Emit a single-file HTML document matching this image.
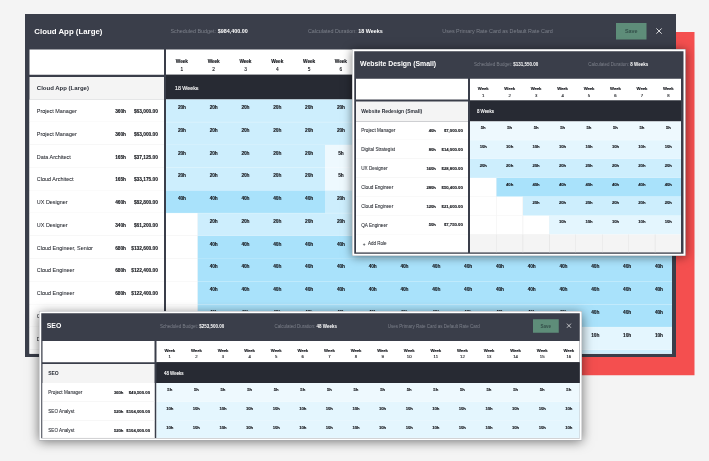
<!DOCTYPE html>
<html lang="en"><head><meta charset="utf-8"><title>Project estimates</title>
<style>
html,body{margin:0;padding:0;background:#f4f4f4}
body{width:709px;height:461px;overflow:hidden;background:#f4f4f4;position:relative;font-family:"Liberation Sans",sans-serif}
#stage{position:absolute;left:0;top:0;width:2836px;height:1844px;transform:scale(0.25);transform-origin:0 0}
.win{position:absolute;background:#3a3e4a;overflow:hidden;box-sizing:content-box}
.win div{position:absolute}
.t{position:absolute;white-space:nowrap}
.t b{color:#fff}
.k{-webkit-text-stroke:0.48px currentColor}
.k2{-webkit-text-stroke:0.24px currentColor}
#red{position:absolute;left:1200px;top:128px;width:1578px;height:1372.8px;background:#f44f4f}
</style></head>
<body>
<div id="stage">
<div id="red"></div>
<div class="win w1" style="left:100px;top:56px;width:2604px;height:1372px;"><span class="t" style="top:51.54px;font-size:31.4px;line-height:37.68px;color:#fff;font-weight:700;left:37.2px;">Cloud App (Large)</span>
<span class="t" style="top:57.3px;font-size:21.6px;line-height:25.92px;color:#7d818b;left:582px;">Scheduled Budget: <b>$984,400.00</b></span>
<span class="t" style="top:57.3px;font-size:21.6px;line-height:25.92px;color:#7d818b;left:1131.6px;">Calculated Duration: <b>18 Weeks</b></span>
<span class="t" style="top:57.3px;font-size:21.6px;line-height:25.92px;color:#7d818b;left:1669.2px;">Uses Primary Rate Card as Default Rate Card</span>
<div style="left:2364px;top:36px;width:122.4px;height:65.6px;background:#5e8d79;"></div>
<span class="t" style="top:56.1px;font-size:21.6px;line-height:25.92px;color:#34504a;font-weight:700;left:2365.2px;width:120px;text-align:center;">Save</span>
<svg style="position:absolute;left:2522.8px;top:54.8px" width="26.4" height="26.4" viewBox="-5 -5 10 10"><path d="M-4 -4L4 4M4 -4L-4 4" stroke="#fff" stroke-width="1.25" fill="none"/></svg>
<div style="left:18.4px;top:141.6px;width:537.6px;height:101.2px;background:#fff;"></div>
<div style="left:564px;top:141.6px;width:2024px;height:101.2px;background:#fff;"></div>
<div style="left:18.4px;top:252.4px;width:537.6px;height:89.6px;background:#f4f4f4;"></div>
<div style="left:564px;top:242.8px;width:2024px;height:99.2px;background:#272a33;"></div>
<span class="t" style="top:283.09px;font-size:24px;line-height:28.8px;color:#2b2f38;font-weight:700;left:47.2px;">Cloud App (Large)</span>
<span class="t k" style="top:284.75px;font-size:21.17px;line-height:25.4px;color:#fff;left:600px;">18 Weeks</span>
<span class="t k" style="top:178.71px;font-size:19.2px;line-height:23.04px;color:#15171c;font-weight:700;letter-spacing:-0.48px;left:567.36px;width:120px;text-align:center;">Week</span>
<span class="t k" style="top:208.71px;font-size:19.2px;line-height:23.04px;color:#15171c;left:567.6px;width:120px;text-align:center;">1</span>
<span class="t k" style="top:178.71px;font-size:19.2px;line-height:23.04px;color:#15171c;font-weight:700;letter-spacing:-0.48px;left:694.56px;width:120px;text-align:center;">Week</span>
<span class="t k" style="top:208.71px;font-size:19.2px;line-height:23.04px;color:#15171c;left:694.8px;width:120px;text-align:center;">2</span>
<span class="t k" style="top:178.71px;font-size:19.2px;line-height:23.04px;color:#15171c;font-weight:700;letter-spacing:-0.48px;left:821.76px;width:120px;text-align:center;">Week</span>
<span class="t k" style="top:208.71px;font-size:19.2px;line-height:23.04px;color:#15171c;left:822px;width:120px;text-align:center;">3</span>
<span class="t k" style="top:178.71px;font-size:19.2px;line-height:23.04px;color:#15171c;font-weight:700;letter-spacing:-0.48px;left:948.96px;width:120px;text-align:center;">Week</span>
<span class="t k" style="top:208.71px;font-size:19.2px;line-height:23.04px;color:#15171c;left:949.2px;width:120px;text-align:center;">4</span>
<span class="t k" style="top:178.71px;font-size:19.2px;line-height:23.04px;color:#15171c;font-weight:700;letter-spacing:-0.48px;left:1076.16px;width:120px;text-align:center;">Week</span>
<span class="t k" style="top:208.71px;font-size:19.2px;line-height:23.04px;color:#15171c;left:1076.4px;width:120px;text-align:center;">5</span>
<span class="t k" style="top:178.71px;font-size:19.2px;line-height:23.04px;color:#15171c;font-weight:700;letter-spacing:-0.48px;left:1203.36px;width:120px;text-align:center;">Week</span>
<span class="t k" style="top:208.71px;font-size:19.2px;line-height:23.04px;color:#15171c;left:1203.6px;width:120px;text-align:center;">6</span>
<span class="t k" style="top:178.71px;font-size:19.2px;line-height:23.04px;color:#15171c;font-weight:700;letter-spacing:-0.48px;left:1330.56px;width:120px;text-align:center;">Week</span>
<span class="t k" style="top:208.71px;font-size:19.2px;line-height:23.04px;color:#15171c;left:1330.8px;width:120px;text-align:center;">7</span>
<span class="t k" style="top:178.71px;font-size:19.2px;line-height:23.04px;color:#15171c;font-weight:700;letter-spacing:-0.48px;left:1457.76px;width:120px;text-align:center;">Week</span>
<span class="t k" style="top:208.71px;font-size:19.2px;line-height:23.04px;color:#15171c;left:1458px;width:120px;text-align:center;">8</span>
<span class="t k" style="top:178.71px;font-size:19.2px;line-height:23.04px;color:#15171c;font-weight:700;letter-spacing:-0.48px;left:1584.96px;width:120px;text-align:center;">Week</span>
<span class="t k" style="top:208.71px;font-size:19.2px;line-height:23.04px;color:#15171c;left:1585.2px;width:120px;text-align:center;">9</span>
<span class="t k" style="top:178.71px;font-size:19.2px;line-height:23.04px;color:#15171c;font-weight:700;letter-spacing:-0.48px;left:1712.16px;width:120px;text-align:center;">Week</span>
<span class="t k" style="top:208.71px;font-size:19.2px;line-height:23.04px;color:#15171c;left:1712.4px;width:120px;text-align:center;">10</span>
<span class="t k" style="top:178.71px;font-size:19.2px;line-height:23.04px;color:#15171c;font-weight:700;letter-spacing:-0.48px;left:1839.36px;width:120px;text-align:center;">Week</span>
<span class="t k" style="top:208.71px;font-size:19.2px;line-height:23.04px;color:#15171c;left:1839.6px;width:120px;text-align:center;">11</span>
<span class="t k" style="top:178.71px;font-size:19.2px;line-height:23.04px;color:#15171c;font-weight:700;letter-spacing:-0.48px;left:1966.56px;width:120px;text-align:center;">Week</span>
<span class="t k" style="top:208.71px;font-size:19.2px;line-height:23.04px;color:#15171c;left:1966.8px;width:120px;text-align:center;">12</span>
<span class="t k" style="top:178.71px;font-size:19.2px;line-height:23.04px;color:#15171c;font-weight:700;letter-spacing:-0.48px;left:2093.76px;width:120px;text-align:center;">Week</span>
<span class="t k" style="top:208.71px;font-size:19.2px;line-height:23.04px;color:#15171c;left:2094px;width:120px;text-align:center;">13</span>
<span class="t k" style="top:178.71px;font-size:19.2px;line-height:23.04px;color:#15171c;font-weight:700;letter-spacing:-0.48px;left:2220.96px;width:120px;text-align:center;">Week</span>
<span class="t k" style="top:208.71px;font-size:19.2px;line-height:23.04px;color:#15171c;left:2221.2px;width:120px;text-align:center;">14</span>
<span class="t k" style="top:178.71px;font-size:19.2px;line-height:23.04px;color:#15171c;font-weight:700;letter-spacing:-0.48px;left:2348.16px;width:120px;text-align:center;">Week</span>
<span class="t k" style="top:208.71px;font-size:19.2px;line-height:23.04px;color:#15171c;left:2348.4px;width:120px;text-align:center;">15</span>
<span class="t k" style="top:178.71px;font-size:19.2px;line-height:23.04px;color:#15171c;font-weight:700;letter-spacing:-0.48px;left:2475.36px;width:120px;text-align:center;">Week</span>
<span class="t k" style="top:208.71px;font-size:19.2px;line-height:23.04px;color:#15171c;left:2475.6px;width:120px;text-align:center;">16</span>
<div style="left:18.4px;top:342px;width:537.6px;height:1017.2px;background:#fff;"></div>
<div style="left:564px;top:342px;width:2024px;height:1017.2px;background:#fff;"></div>
<div style="left:18.4px;top:342px;width:537.6px;height:91.08px;background:#fff;box-shadow:inset 0 -2px 0 #efefef;"></div>
<span class="t k2" style="top:375.92px;font-size:21.8px;line-height:26.16px;color:#1f2229;left:47.2px;">Project Manager</span>
<span class="t k" style="top:377.45px;font-size:19.2px;line-height:23.04px;color:#15171c;font-weight:700;letter-spacing:-0.48px;right:calc(100% - 403.12px);">360h</span>
<span class="t k" style="top:377.45px;font-size:19.2px;line-height:23.04px;color:#15171c;font-weight:700;right:calc(100% - 531.6px);">$63,000.00</span>
<div style="left:564px;top:342px;width:2024px;height:91.08px;background:#cdeefd;box-shadow:inset 0 -2px 0 rgba(255,255,255,.3);"></div>
<span class="t k" style="top:361.91px;font-size:19.2px;line-height:23.04px;color:#15171c;font-weight:700;letter-spacing:-0.48px;left:567.36px;width:120px;text-align:center;">20h</span>
<span class="t k" style="top:361.91px;font-size:19.2px;line-height:23.04px;color:#15171c;font-weight:700;letter-spacing:-0.48px;left:694.56px;width:120px;text-align:center;">20h</span>
<span class="t k" style="top:361.91px;font-size:19.2px;line-height:23.04px;color:#15171c;font-weight:700;letter-spacing:-0.48px;left:821.76px;width:120px;text-align:center;">20h</span>
<span class="t k" style="top:361.91px;font-size:19.2px;line-height:23.04px;color:#15171c;font-weight:700;letter-spacing:-0.48px;left:948.96px;width:120px;text-align:center;">20h</span>
<span class="t k" style="top:361.91px;font-size:19.2px;line-height:23.04px;color:#15171c;font-weight:700;letter-spacing:-0.48px;left:1076.16px;width:120px;text-align:center;">20h</span>
<span class="t k" style="top:361.91px;font-size:19.2px;line-height:23.04px;color:#15171c;font-weight:700;letter-spacing:-0.48px;left:1203.36px;width:120px;text-align:center;">20h</span>
<span class="t k" style="top:361.91px;font-size:19.2px;line-height:23.04px;color:#15171c;font-weight:700;letter-spacing:-0.48px;left:1330.56px;width:120px;text-align:center;">20h</span>
<span class="t k" style="top:361.91px;font-size:19.2px;line-height:23.04px;color:#15171c;font-weight:700;letter-spacing:-0.48px;left:1457.76px;width:120px;text-align:center;">20h</span>
<span class="t k" style="top:361.91px;font-size:19.2px;line-height:23.04px;color:#15171c;font-weight:700;letter-spacing:-0.48px;left:1584.96px;width:120px;text-align:center;">20h</span>
<span class="t k" style="top:361.91px;font-size:19.2px;line-height:23.04px;color:#15171c;font-weight:700;letter-spacing:-0.48px;left:1712.16px;width:120px;text-align:center;">20h</span>
<span class="t k" style="top:361.91px;font-size:19.2px;line-height:23.04px;color:#15171c;font-weight:700;letter-spacing:-0.48px;left:1839.36px;width:120px;text-align:center;">20h</span>
<span class="t k" style="top:361.91px;font-size:19.2px;line-height:23.04px;color:#15171c;font-weight:700;letter-spacing:-0.48px;left:1966.56px;width:120px;text-align:center;">20h</span>
<span class="t k" style="top:361.91px;font-size:19.2px;line-height:23.04px;color:#15171c;font-weight:700;letter-spacing:-0.48px;left:2093.76px;width:120px;text-align:center;">20h</span>
<span class="t k" style="top:361.91px;font-size:19.2px;line-height:23.04px;color:#15171c;font-weight:700;letter-spacing:-0.48px;left:2220.96px;width:120px;text-align:center;">20h</span>
<span class="t k" style="top:361.91px;font-size:19.2px;line-height:23.04px;color:#15171c;font-weight:700;letter-spacing:-0.48px;left:2348.16px;width:120px;text-align:center;">20h</span>
<span class="t k" style="top:361.91px;font-size:19.2px;line-height:23.04px;color:#15171c;font-weight:700;letter-spacing:-0.48px;left:2475.36px;width:120px;text-align:center;">20h</span>
<div style="left:18.4px;top:433.08px;width:537.6px;height:91.08px;background:#fff;box-shadow:inset 0 -2px 0 #efefef;"></div>
<span class="t k2" style="top:467px;font-size:21.8px;line-height:26.16px;color:#1f2229;left:47.2px;">Project Manager</span>
<span class="t k" style="top:468.53px;font-size:19.2px;line-height:23.04px;color:#15171c;font-weight:700;letter-spacing:-0.48px;right:calc(100% - 403.12px);">360h</span>
<span class="t k" style="top:468.53px;font-size:19.2px;line-height:23.04px;color:#15171c;font-weight:700;right:calc(100% - 531.6px);">$63,000.00</span>
<div style="left:564px;top:433.08px;width:2024px;height:91.08px;background:#cdeefd;box-shadow:inset 0 -2px 0 rgba(255,255,255,.3);"></div>
<span class="t k" style="top:452.99px;font-size:19.2px;line-height:23.04px;color:#15171c;font-weight:700;letter-spacing:-0.48px;left:567.36px;width:120px;text-align:center;">20h</span>
<span class="t k" style="top:452.99px;font-size:19.2px;line-height:23.04px;color:#15171c;font-weight:700;letter-spacing:-0.48px;left:694.56px;width:120px;text-align:center;">20h</span>
<span class="t k" style="top:452.99px;font-size:19.2px;line-height:23.04px;color:#15171c;font-weight:700;letter-spacing:-0.48px;left:821.76px;width:120px;text-align:center;">20h</span>
<span class="t k" style="top:452.99px;font-size:19.2px;line-height:23.04px;color:#15171c;font-weight:700;letter-spacing:-0.48px;left:948.96px;width:120px;text-align:center;">20h</span>
<span class="t k" style="top:452.99px;font-size:19.2px;line-height:23.04px;color:#15171c;font-weight:700;letter-spacing:-0.48px;left:1076.16px;width:120px;text-align:center;">20h</span>
<span class="t k" style="top:452.99px;font-size:19.2px;line-height:23.04px;color:#15171c;font-weight:700;letter-spacing:-0.48px;left:1203.36px;width:120px;text-align:center;">20h</span>
<span class="t k" style="top:452.99px;font-size:19.2px;line-height:23.04px;color:#15171c;font-weight:700;letter-spacing:-0.48px;left:1330.56px;width:120px;text-align:center;">20h</span>
<span class="t k" style="top:452.99px;font-size:19.2px;line-height:23.04px;color:#15171c;font-weight:700;letter-spacing:-0.48px;left:1457.76px;width:120px;text-align:center;">20h</span>
<span class="t k" style="top:452.99px;font-size:19.2px;line-height:23.04px;color:#15171c;font-weight:700;letter-spacing:-0.48px;left:1584.96px;width:120px;text-align:center;">20h</span>
<span class="t k" style="top:452.99px;font-size:19.2px;line-height:23.04px;color:#15171c;font-weight:700;letter-spacing:-0.48px;left:1712.16px;width:120px;text-align:center;">20h</span>
<span class="t k" style="top:452.99px;font-size:19.2px;line-height:23.04px;color:#15171c;font-weight:700;letter-spacing:-0.48px;left:1839.36px;width:120px;text-align:center;">20h</span>
<span class="t k" style="top:452.99px;font-size:19.2px;line-height:23.04px;color:#15171c;font-weight:700;letter-spacing:-0.48px;left:1966.56px;width:120px;text-align:center;">20h</span>
<span class="t k" style="top:452.99px;font-size:19.2px;line-height:23.04px;color:#15171c;font-weight:700;letter-spacing:-0.48px;left:2093.76px;width:120px;text-align:center;">20h</span>
<span class="t k" style="top:452.99px;font-size:19.2px;line-height:23.04px;color:#15171c;font-weight:700;letter-spacing:-0.48px;left:2220.96px;width:120px;text-align:center;">20h</span>
<span class="t k" style="top:452.99px;font-size:19.2px;line-height:23.04px;color:#15171c;font-weight:700;letter-spacing:-0.48px;left:2348.16px;width:120px;text-align:center;">20h</span>
<span class="t k" style="top:452.99px;font-size:19.2px;line-height:23.04px;color:#15171c;font-weight:700;letter-spacing:-0.48px;left:2475.36px;width:120px;text-align:center;">20h</span>
<div style="left:18.4px;top:524.16px;width:537.6px;height:91.08px;background:#fff;box-shadow:inset 0 -2px 0 #efefef;"></div>
<span class="t k2" style="top:558.08px;font-size:21.8px;line-height:26.16px;color:#1f2229;left:47.2px;">Data Architect</span>
<span class="t k" style="top:559.61px;font-size:19.2px;line-height:23.04px;color:#15171c;font-weight:700;letter-spacing:-0.48px;right:calc(100% - 403.12px);">165h</span>
<span class="t k" style="top:559.61px;font-size:19.2px;line-height:23.04px;color:#15171c;font-weight:700;right:calc(100% - 531.6px);">$37,125.00</span>
<div style="left:564px;top:524.16px;width:636px;height:91.08px;background:#cdeefd;box-shadow:inset 0 -2px 0 rgba(255,255,255,.3);"></div>
<span class="t k" style="top:544.07px;font-size:19.2px;line-height:23.04px;color:#15171c;font-weight:700;letter-spacing:-0.48px;left:567.36px;width:120px;text-align:center;">20h</span>
<span class="t k" style="top:544.07px;font-size:19.2px;line-height:23.04px;color:#15171c;font-weight:700;letter-spacing:-0.48px;left:694.56px;width:120px;text-align:center;">20h</span>
<span class="t k" style="top:544.07px;font-size:19.2px;line-height:23.04px;color:#15171c;font-weight:700;letter-spacing:-0.48px;left:821.76px;width:120px;text-align:center;">20h</span>
<span class="t k" style="top:544.07px;font-size:19.2px;line-height:23.04px;color:#15171c;font-weight:700;letter-spacing:-0.48px;left:948.96px;width:120px;text-align:center;">20h</span>
<span class="t k" style="top:544.07px;font-size:19.2px;line-height:23.04px;color:#15171c;font-weight:700;letter-spacing:-0.48px;left:1076.16px;width:120px;text-align:center;">20h</span>
<div style="left:1200px;top:524.16px;width:1388px;height:91.08px;background:#eef9fe;box-shadow:inset 0 -2px 0 rgba(255,255,255,.3);"></div>
<span class="t k" style="top:544.07px;font-size:19.2px;line-height:23.04px;color:#15171c;font-weight:700;letter-spacing:-0.48px;left:1203.36px;width:120px;text-align:center;">5h</span>
<span class="t k" style="top:544.07px;font-size:19.2px;line-height:23.04px;color:#15171c;font-weight:700;letter-spacing:-0.48px;left:1330.56px;width:120px;text-align:center;">5h</span>
<span class="t k" style="top:544.07px;font-size:19.2px;line-height:23.04px;color:#15171c;font-weight:700;letter-spacing:-0.48px;left:1457.76px;width:120px;text-align:center;">5h</span>
<span class="t k" style="top:544.07px;font-size:19.2px;line-height:23.04px;color:#15171c;font-weight:700;letter-spacing:-0.48px;left:1584.96px;width:120px;text-align:center;">5h</span>
<span class="t k" style="top:544.07px;font-size:19.2px;line-height:23.04px;color:#15171c;font-weight:700;letter-spacing:-0.48px;left:1712.16px;width:120px;text-align:center;">5h</span>
<span class="t k" style="top:544.07px;font-size:19.2px;line-height:23.04px;color:#15171c;font-weight:700;letter-spacing:-0.48px;left:1839.36px;width:120px;text-align:center;">5h</span>
<span class="t k" style="top:544.07px;font-size:19.2px;line-height:23.04px;color:#15171c;font-weight:700;letter-spacing:-0.48px;left:1966.56px;width:120px;text-align:center;">5h</span>
<span class="t k" style="top:544.07px;font-size:19.2px;line-height:23.04px;color:#15171c;font-weight:700;letter-spacing:-0.48px;left:2093.76px;width:120px;text-align:center;">5h</span>
<span class="t k" style="top:544.07px;font-size:19.2px;line-height:23.04px;color:#15171c;font-weight:700;letter-spacing:-0.48px;left:2220.96px;width:120px;text-align:center;">5h</span>
<span class="t k" style="top:544.07px;font-size:19.2px;line-height:23.04px;color:#15171c;font-weight:700;letter-spacing:-0.48px;left:2348.16px;width:120px;text-align:center;">5h</span>
<span class="t k" style="top:544.07px;font-size:19.2px;line-height:23.04px;color:#15171c;font-weight:700;letter-spacing:-0.48px;left:2475.36px;width:120px;text-align:center;">5h</span>
<div style="left:18.4px;top:615.24px;width:537.6px;height:91.08px;background:#fff;box-shadow:inset 0 -2px 0 #efefef;"></div>
<span class="t k2" style="top:649.16px;font-size:21.8px;line-height:26.16px;color:#1f2229;left:47.2px;">Cloud Architect</span>
<span class="t k" style="top:650.69px;font-size:19.2px;line-height:23.04px;color:#15171c;font-weight:700;letter-spacing:-0.48px;right:calc(100% - 403.12px);">165h</span>
<span class="t k" style="top:650.69px;font-size:19.2px;line-height:23.04px;color:#15171c;font-weight:700;right:calc(100% - 531.6px);">$33,175.00</span>
<div style="left:564px;top:615.24px;width:636px;height:91.08px;background:#cdeefd;box-shadow:inset 0 -2px 0 rgba(255,255,255,.3);"></div>
<span class="t k" style="top:635.15px;font-size:19.2px;line-height:23.04px;color:#15171c;font-weight:700;letter-spacing:-0.48px;left:567.36px;width:120px;text-align:center;">20h</span>
<span class="t k" style="top:635.15px;font-size:19.2px;line-height:23.04px;color:#15171c;font-weight:700;letter-spacing:-0.48px;left:694.56px;width:120px;text-align:center;">20h</span>
<span class="t k" style="top:635.15px;font-size:19.2px;line-height:23.04px;color:#15171c;font-weight:700;letter-spacing:-0.48px;left:821.76px;width:120px;text-align:center;">20h</span>
<span class="t k" style="top:635.15px;font-size:19.2px;line-height:23.04px;color:#15171c;font-weight:700;letter-spacing:-0.48px;left:948.96px;width:120px;text-align:center;">20h</span>
<span class="t k" style="top:635.15px;font-size:19.2px;line-height:23.04px;color:#15171c;font-weight:700;letter-spacing:-0.48px;left:1076.16px;width:120px;text-align:center;">20h</span>
<div style="left:1200px;top:615.24px;width:1388px;height:91.08px;background:#eef9fe;box-shadow:inset 0 -2px 0 rgba(255,255,255,.3);"></div>
<span class="t k" style="top:635.15px;font-size:19.2px;line-height:23.04px;color:#15171c;font-weight:700;letter-spacing:-0.48px;left:1203.36px;width:120px;text-align:center;">5h</span>
<span class="t k" style="top:635.15px;font-size:19.2px;line-height:23.04px;color:#15171c;font-weight:700;letter-spacing:-0.48px;left:1330.56px;width:120px;text-align:center;">5h</span>
<span class="t k" style="top:635.15px;font-size:19.2px;line-height:23.04px;color:#15171c;font-weight:700;letter-spacing:-0.48px;left:1457.76px;width:120px;text-align:center;">5h</span>
<span class="t k" style="top:635.15px;font-size:19.2px;line-height:23.04px;color:#15171c;font-weight:700;letter-spacing:-0.48px;left:1584.96px;width:120px;text-align:center;">5h</span>
<span class="t k" style="top:635.15px;font-size:19.2px;line-height:23.04px;color:#15171c;font-weight:700;letter-spacing:-0.48px;left:1712.16px;width:120px;text-align:center;">5h</span>
<span class="t k" style="top:635.15px;font-size:19.2px;line-height:23.04px;color:#15171c;font-weight:700;letter-spacing:-0.48px;left:1839.36px;width:120px;text-align:center;">5h</span>
<span class="t k" style="top:635.15px;font-size:19.2px;line-height:23.04px;color:#15171c;font-weight:700;letter-spacing:-0.48px;left:1966.56px;width:120px;text-align:center;">5h</span>
<span class="t k" style="top:635.15px;font-size:19.2px;line-height:23.04px;color:#15171c;font-weight:700;letter-spacing:-0.48px;left:2093.76px;width:120px;text-align:center;">5h</span>
<span class="t k" style="top:635.15px;font-size:19.2px;line-height:23.04px;color:#15171c;font-weight:700;letter-spacing:-0.48px;left:2220.96px;width:120px;text-align:center;">5h</span>
<span class="t k" style="top:635.15px;font-size:19.2px;line-height:23.04px;color:#15171c;font-weight:700;letter-spacing:-0.48px;left:2348.16px;width:120px;text-align:center;">5h</span>
<span class="t k" style="top:635.15px;font-size:19.2px;line-height:23.04px;color:#15171c;font-weight:700;letter-spacing:-0.48px;left:2475.36px;width:120px;text-align:center;">5h</span>
<div style="left:18.4px;top:706.32px;width:537.6px;height:91.08px;background:#fff;box-shadow:inset 0 -2px 0 #efefef;"></div>
<span class="t k2" style="top:740.24px;font-size:21.8px;line-height:26.16px;color:#1f2229;left:47.2px;">UX Designer</span>
<span class="t k" style="top:741.77px;font-size:19.2px;line-height:23.04px;color:#15171c;font-weight:700;letter-spacing:-0.48px;right:calc(100% - 403.12px);">460h</span>
<span class="t k" style="top:741.77px;font-size:19.2px;line-height:23.04px;color:#15171c;font-weight:700;right:calc(100% - 531.6px);">$82,800.00</span>
<div style="left:564px;top:706.32px;width:636px;height:91.08px;background:#a9e2fb;box-shadow:inset 0 -2px 0 rgba(255,255,255,.3);"></div>
<span class="t k" style="top:726.23px;font-size:19.2px;line-height:23.04px;color:#15171c;font-weight:700;letter-spacing:-0.48px;left:567.36px;width:120px;text-align:center;">40h</span>
<span class="t k" style="top:726.23px;font-size:19.2px;line-height:23.04px;color:#15171c;font-weight:700;letter-spacing:-0.48px;left:694.56px;width:120px;text-align:center;">40h</span>
<span class="t k" style="top:726.23px;font-size:19.2px;line-height:23.04px;color:#15171c;font-weight:700;letter-spacing:-0.48px;left:821.76px;width:120px;text-align:center;">40h</span>
<span class="t k" style="top:726.23px;font-size:19.2px;line-height:23.04px;color:#15171c;font-weight:700;letter-spacing:-0.48px;left:948.96px;width:120px;text-align:center;">40h</span>
<span class="t k" style="top:726.23px;font-size:19.2px;line-height:23.04px;color:#15171c;font-weight:700;letter-spacing:-0.48px;left:1076.16px;width:120px;text-align:center;">40h</span>
<div style="left:1200px;top:706.32px;width:1388px;height:91.08px;background:#cdeefd;box-shadow:inset 0 -2px 0 rgba(255,255,255,.3);"></div>
<span class="t k" style="top:726.23px;font-size:19.2px;line-height:23.04px;color:#15171c;font-weight:700;letter-spacing:-0.48px;left:1203.36px;width:120px;text-align:center;">20h</span>
<span class="t k" style="top:726.23px;font-size:19.2px;line-height:23.04px;color:#15171c;font-weight:700;letter-spacing:-0.48px;left:1330.56px;width:120px;text-align:center;">20h</span>
<span class="t k" style="top:726.23px;font-size:19.2px;line-height:23.04px;color:#15171c;font-weight:700;letter-spacing:-0.48px;left:1457.76px;width:120px;text-align:center;">20h</span>
<span class="t k" style="top:726.23px;font-size:19.2px;line-height:23.04px;color:#15171c;font-weight:700;letter-spacing:-0.48px;left:1584.96px;width:120px;text-align:center;">20h</span>
<span class="t k" style="top:726.23px;font-size:19.2px;line-height:23.04px;color:#15171c;font-weight:700;letter-spacing:-0.48px;left:1712.16px;width:120px;text-align:center;">20h</span>
<span class="t k" style="top:726.23px;font-size:19.2px;line-height:23.04px;color:#15171c;font-weight:700;letter-spacing:-0.48px;left:1839.36px;width:120px;text-align:center;">20h</span>
<span class="t k" style="top:726.23px;font-size:19.2px;line-height:23.04px;color:#15171c;font-weight:700;letter-spacing:-0.48px;left:1966.56px;width:120px;text-align:center;">20h</span>
<span class="t k" style="top:726.23px;font-size:19.2px;line-height:23.04px;color:#15171c;font-weight:700;letter-spacing:-0.48px;left:2093.76px;width:120px;text-align:center;">20h</span>
<span class="t k" style="top:726.23px;font-size:19.2px;line-height:23.04px;color:#15171c;font-weight:700;letter-spacing:-0.48px;left:2220.96px;width:120px;text-align:center;">20h</span>
<span class="t k" style="top:726.23px;font-size:19.2px;line-height:23.04px;color:#15171c;font-weight:700;letter-spacing:-0.48px;left:2348.16px;width:120px;text-align:center;">20h</span>
<span class="t k" style="top:726.23px;font-size:19.2px;line-height:23.04px;color:#15171c;font-weight:700;letter-spacing:-0.48px;left:2475.36px;width:120px;text-align:center;">20h</span>
<div style="left:18.4px;top:797.4px;width:537.6px;height:91.08px;background:#fff;box-shadow:inset 0 -2px 0 #efefef;"></div>
<span class="t k2" style="top:831.32px;font-size:21.8px;line-height:26.16px;color:#1f2229;left:47.2px;">UX Designer</span>
<span class="t k" style="top:832.85px;font-size:19.2px;line-height:23.04px;color:#15171c;font-weight:700;letter-spacing:-0.48px;right:calc(100% - 403.12px);">340h</span>
<span class="t k" style="top:832.85px;font-size:19.2px;line-height:23.04px;color:#15171c;font-weight:700;right:calc(100% - 531.6px);">$61,200.00</span>
<div style="left:564px;top:797.4px;width:127.2px;height:91.08px;background:#ffffff;box-shadow:inset 0 -2px 0 #efefef;"></div>
<div style="left:690px;top:797.4px;width:2.4px;height:91.08px;background:#efefef;"></div>
<div style="left:691.2px;top:797.4px;width:1896.8px;height:91.08px;background:#cdeefd;box-shadow:inset 0 -2px 0 rgba(255,255,255,.3);"></div>
<span class="t k" style="top:817.31px;font-size:19.2px;line-height:23.04px;color:#15171c;font-weight:700;letter-spacing:-0.48px;left:694.56px;width:120px;text-align:center;">20h</span>
<span class="t k" style="top:817.31px;font-size:19.2px;line-height:23.04px;color:#15171c;font-weight:700;letter-spacing:-0.48px;left:821.76px;width:120px;text-align:center;">20h</span>
<span class="t k" style="top:817.31px;font-size:19.2px;line-height:23.04px;color:#15171c;font-weight:700;letter-spacing:-0.48px;left:948.96px;width:120px;text-align:center;">20h</span>
<span class="t k" style="top:817.31px;font-size:19.2px;line-height:23.04px;color:#15171c;font-weight:700;letter-spacing:-0.48px;left:1076.16px;width:120px;text-align:center;">20h</span>
<span class="t k" style="top:817.31px;font-size:19.2px;line-height:23.04px;color:#15171c;font-weight:700;letter-spacing:-0.48px;left:1203.36px;width:120px;text-align:center;">20h</span>
<span class="t k" style="top:817.31px;font-size:19.2px;line-height:23.04px;color:#15171c;font-weight:700;letter-spacing:-0.48px;left:1330.56px;width:120px;text-align:center;">20h</span>
<span class="t k" style="top:817.31px;font-size:19.2px;line-height:23.04px;color:#15171c;font-weight:700;letter-spacing:-0.48px;left:1457.76px;width:120px;text-align:center;">20h</span>
<span class="t k" style="top:817.31px;font-size:19.2px;line-height:23.04px;color:#15171c;font-weight:700;letter-spacing:-0.48px;left:1584.96px;width:120px;text-align:center;">20h</span>
<span class="t k" style="top:817.31px;font-size:19.2px;line-height:23.04px;color:#15171c;font-weight:700;letter-spacing:-0.48px;left:1712.16px;width:120px;text-align:center;">20h</span>
<span class="t k" style="top:817.31px;font-size:19.2px;line-height:23.04px;color:#15171c;font-weight:700;letter-spacing:-0.48px;left:1839.36px;width:120px;text-align:center;">20h</span>
<span class="t k" style="top:817.31px;font-size:19.2px;line-height:23.04px;color:#15171c;font-weight:700;letter-spacing:-0.48px;left:1966.56px;width:120px;text-align:center;">20h</span>
<span class="t k" style="top:817.31px;font-size:19.2px;line-height:23.04px;color:#15171c;font-weight:700;letter-spacing:-0.48px;left:2093.76px;width:120px;text-align:center;">20h</span>
<span class="t k" style="top:817.31px;font-size:19.2px;line-height:23.04px;color:#15171c;font-weight:700;letter-spacing:-0.48px;left:2220.96px;width:120px;text-align:center;">20h</span>
<span class="t k" style="top:817.31px;font-size:19.2px;line-height:23.04px;color:#15171c;font-weight:700;letter-spacing:-0.48px;left:2348.16px;width:120px;text-align:center;">20h</span>
<span class="t k" style="top:817.31px;font-size:19.2px;line-height:23.04px;color:#15171c;font-weight:700;letter-spacing:-0.48px;left:2475.36px;width:120px;text-align:center;">20h</span>
<div style="left:18.4px;top:888.48px;width:537.6px;height:91.08px;background:#fff;box-shadow:inset 0 -2px 0 #efefef;"></div>
<span class="t k2" style="top:922.4px;font-size:21.8px;line-height:26.16px;color:#1f2229;left:47.2px;">Cloud Engineer, Senior</span>
<span class="t k" style="top:923.93px;font-size:19.2px;line-height:23.04px;color:#15171c;font-weight:700;letter-spacing:-0.48px;right:calc(100% - 403.12px);">680h</span>
<span class="t k" style="top:923.93px;font-size:19.2px;line-height:23.04px;color:#15171c;font-weight:700;right:calc(100% - 531.6px);">$132,600.00</span>
<div style="left:564px;top:888.48px;width:127.2px;height:91.08px;background:#ffffff;box-shadow:inset 0 -2px 0 #efefef;"></div>
<div style="left:690px;top:888.48px;width:2.4px;height:91.08px;background:#efefef;"></div>
<div style="left:691.2px;top:888.48px;width:1896.8px;height:91.08px;background:#a9e2fb;box-shadow:inset 0 -2px 0 rgba(255,255,255,.3);"></div>
<span class="t k" style="top:908.39px;font-size:19.2px;line-height:23.04px;color:#15171c;font-weight:700;letter-spacing:-0.48px;left:694.56px;width:120px;text-align:center;">40h</span>
<span class="t k" style="top:908.39px;font-size:19.2px;line-height:23.04px;color:#15171c;font-weight:700;letter-spacing:-0.48px;left:821.76px;width:120px;text-align:center;">40h</span>
<span class="t k" style="top:908.39px;font-size:19.2px;line-height:23.04px;color:#15171c;font-weight:700;letter-spacing:-0.48px;left:948.96px;width:120px;text-align:center;">40h</span>
<span class="t k" style="top:908.39px;font-size:19.2px;line-height:23.04px;color:#15171c;font-weight:700;letter-spacing:-0.48px;left:1076.16px;width:120px;text-align:center;">40h</span>
<span class="t k" style="top:908.39px;font-size:19.2px;line-height:23.04px;color:#15171c;font-weight:700;letter-spacing:-0.48px;left:1203.36px;width:120px;text-align:center;">40h</span>
<span class="t k" style="top:908.39px;font-size:19.2px;line-height:23.04px;color:#15171c;font-weight:700;letter-spacing:-0.48px;left:1330.56px;width:120px;text-align:center;">40h</span>
<span class="t k" style="top:908.39px;font-size:19.2px;line-height:23.04px;color:#15171c;font-weight:700;letter-spacing:-0.48px;left:1457.76px;width:120px;text-align:center;">40h</span>
<span class="t k" style="top:908.39px;font-size:19.2px;line-height:23.04px;color:#15171c;font-weight:700;letter-spacing:-0.48px;left:1584.96px;width:120px;text-align:center;">40h</span>
<span class="t k" style="top:908.39px;font-size:19.2px;line-height:23.04px;color:#15171c;font-weight:700;letter-spacing:-0.48px;left:1712.16px;width:120px;text-align:center;">40h</span>
<span class="t k" style="top:908.39px;font-size:19.2px;line-height:23.04px;color:#15171c;font-weight:700;letter-spacing:-0.48px;left:1839.36px;width:120px;text-align:center;">40h</span>
<span class="t k" style="top:908.39px;font-size:19.2px;line-height:23.04px;color:#15171c;font-weight:700;letter-spacing:-0.48px;left:1966.56px;width:120px;text-align:center;">40h</span>
<span class="t k" style="top:908.39px;font-size:19.2px;line-height:23.04px;color:#15171c;font-weight:700;letter-spacing:-0.48px;left:2093.76px;width:120px;text-align:center;">40h</span>
<span class="t k" style="top:908.39px;font-size:19.2px;line-height:23.04px;color:#15171c;font-weight:700;letter-spacing:-0.48px;left:2220.96px;width:120px;text-align:center;">40h</span>
<span class="t k" style="top:908.39px;font-size:19.2px;line-height:23.04px;color:#15171c;font-weight:700;letter-spacing:-0.48px;left:2348.16px;width:120px;text-align:center;">40h</span>
<span class="t k" style="top:908.39px;font-size:19.2px;line-height:23.04px;color:#15171c;font-weight:700;letter-spacing:-0.48px;left:2475.36px;width:120px;text-align:center;">40h</span>
<div style="left:18.4px;top:979.56px;width:537.6px;height:91.08px;background:#fff;box-shadow:inset 0 -2px 0 #efefef;"></div>
<span class="t k2" style="top:1013.48px;font-size:21.8px;line-height:26.16px;color:#1f2229;left:47.2px;">Cloud Engineer</span>
<span class="t k" style="top:1015.01px;font-size:19.2px;line-height:23.04px;color:#15171c;font-weight:700;letter-spacing:-0.48px;right:calc(100% - 403.12px);">680h</span>
<span class="t k" style="top:1015.01px;font-size:19.2px;line-height:23.04px;color:#15171c;font-weight:700;right:calc(100% - 531.6px);">$122,400.00</span>
<div style="left:564px;top:979.56px;width:127.2px;height:91.08px;background:#ffffff;box-shadow:inset 0 -2px 0 #efefef;"></div>
<div style="left:690px;top:979.56px;width:2.4px;height:91.08px;background:#efefef;"></div>
<div style="left:691.2px;top:979.56px;width:1896.8px;height:91.08px;background:#a9e2fb;box-shadow:inset 0 -2px 0 rgba(255,255,255,.3);"></div>
<span class="t k" style="top:999.47px;font-size:19.2px;line-height:23.04px;color:#15171c;font-weight:700;letter-spacing:-0.48px;left:694.56px;width:120px;text-align:center;">40h</span>
<span class="t k" style="top:999.47px;font-size:19.2px;line-height:23.04px;color:#15171c;font-weight:700;letter-spacing:-0.48px;left:821.76px;width:120px;text-align:center;">40h</span>
<span class="t k" style="top:999.47px;font-size:19.2px;line-height:23.04px;color:#15171c;font-weight:700;letter-spacing:-0.48px;left:948.96px;width:120px;text-align:center;">40h</span>
<span class="t k" style="top:999.47px;font-size:19.2px;line-height:23.04px;color:#15171c;font-weight:700;letter-spacing:-0.48px;left:1076.16px;width:120px;text-align:center;">40h</span>
<span class="t k" style="top:999.47px;font-size:19.2px;line-height:23.04px;color:#15171c;font-weight:700;letter-spacing:-0.48px;left:1203.36px;width:120px;text-align:center;">40h</span>
<span class="t k" style="top:999.47px;font-size:19.2px;line-height:23.04px;color:#15171c;font-weight:700;letter-spacing:-0.48px;left:1330.56px;width:120px;text-align:center;">40h</span>
<span class="t k" style="top:999.47px;font-size:19.2px;line-height:23.04px;color:#15171c;font-weight:700;letter-spacing:-0.48px;left:1457.76px;width:120px;text-align:center;">40h</span>
<span class="t k" style="top:999.47px;font-size:19.2px;line-height:23.04px;color:#15171c;font-weight:700;letter-spacing:-0.48px;left:1584.96px;width:120px;text-align:center;">40h</span>
<span class="t k" style="top:999.47px;font-size:19.2px;line-height:23.04px;color:#15171c;font-weight:700;letter-spacing:-0.48px;left:1712.16px;width:120px;text-align:center;">40h</span>
<span class="t k" style="top:999.47px;font-size:19.2px;line-height:23.04px;color:#15171c;font-weight:700;letter-spacing:-0.48px;left:1839.36px;width:120px;text-align:center;">40h</span>
<span class="t k" style="top:999.47px;font-size:19.2px;line-height:23.04px;color:#15171c;font-weight:700;letter-spacing:-0.48px;left:1966.56px;width:120px;text-align:center;">40h</span>
<span class="t k" style="top:999.47px;font-size:19.2px;line-height:23.04px;color:#15171c;font-weight:700;letter-spacing:-0.48px;left:2093.76px;width:120px;text-align:center;">40h</span>
<span class="t k" style="top:999.47px;font-size:19.2px;line-height:23.04px;color:#15171c;font-weight:700;letter-spacing:-0.48px;left:2220.96px;width:120px;text-align:center;">40h</span>
<span class="t k" style="top:999.47px;font-size:19.2px;line-height:23.04px;color:#15171c;font-weight:700;letter-spacing:-0.48px;left:2348.16px;width:120px;text-align:center;">40h</span>
<span class="t k" style="top:999.47px;font-size:19.2px;line-height:23.04px;color:#15171c;font-weight:700;letter-spacing:-0.48px;left:2475.36px;width:120px;text-align:center;">40h</span>
<div style="left:18.4px;top:1070.64px;width:537.6px;height:91.08px;background:#fff;box-shadow:inset 0 -2px 0 #efefef;"></div>
<span class="t k2" style="top:1104.56px;font-size:21.8px;line-height:26.16px;color:#1f2229;left:47.2px;">Cloud Engineer</span>
<span class="t k" style="top:1106.09px;font-size:19.2px;line-height:23.04px;color:#15171c;font-weight:700;letter-spacing:-0.48px;right:calc(100% - 403.12px);">680h</span>
<span class="t k" style="top:1106.09px;font-size:19.2px;line-height:23.04px;color:#15171c;font-weight:700;right:calc(100% - 531.6px);">$122,400.00</span>
<div style="left:564px;top:1070.64px;width:127.2px;height:91.08px;background:#ffffff;box-shadow:inset 0 -2px 0 #efefef;"></div>
<div style="left:690px;top:1070.64px;width:2.4px;height:91.08px;background:#efefef;"></div>
<div style="left:691.2px;top:1070.64px;width:1896.8px;height:91.08px;background:#a9e2fb;box-shadow:inset 0 -2px 0 rgba(255,255,255,.3);"></div>
<span class="t k" style="top:1090.55px;font-size:19.2px;line-height:23.04px;color:#15171c;font-weight:700;letter-spacing:-0.48px;left:694.56px;width:120px;text-align:center;">40h</span>
<span class="t k" style="top:1090.55px;font-size:19.2px;line-height:23.04px;color:#15171c;font-weight:700;letter-spacing:-0.48px;left:821.76px;width:120px;text-align:center;">40h</span>
<span class="t k" style="top:1090.55px;font-size:19.2px;line-height:23.04px;color:#15171c;font-weight:700;letter-spacing:-0.48px;left:948.96px;width:120px;text-align:center;">40h</span>
<span class="t k" style="top:1090.55px;font-size:19.2px;line-height:23.04px;color:#15171c;font-weight:700;letter-spacing:-0.48px;left:1076.16px;width:120px;text-align:center;">40h</span>
<span class="t k" style="top:1090.55px;font-size:19.2px;line-height:23.04px;color:#15171c;font-weight:700;letter-spacing:-0.48px;left:1203.36px;width:120px;text-align:center;">40h</span>
<span class="t k" style="top:1090.55px;font-size:19.2px;line-height:23.04px;color:#15171c;font-weight:700;letter-spacing:-0.48px;left:1330.56px;width:120px;text-align:center;">40h</span>
<span class="t k" style="top:1090.55px;font-size:19.2px;line-height:23.04px;color:#15171c;font-weight:700;letter-spacing:-0.48px;left:1457.76px;width:120px;text-align:center;">40h</span>
<span class="t k" style="top:1090.55px;font-size:19.2px;line-height:23.04px;color:#15171c;font-weight:700;letter-spacing:-0.48px;left:1584.96px;width:120px;text-align:center;">40h</span>
<span class="t k" style="top:1090.55px;font-size:19.2px;line-height:23.04px;color:#15171c;font-weight:700;letter-spacing:-0.48px;left:1712.16px;width:120px;text-align:center;">40h</span>
<span class="t k" style="top:1090.55px;font-size:19.2px;line-height:23.04px;color:#15171c;font-weight:700;letter-spacing:-0.48px;left:1839.36px;width:120px;text-align:center;">40h</span>
<span class="t k" style="top:1090.55px;font-size:19.2px;line-height:23.04px;color:#15171c;font-weight:700;letter-spacing:-0.48px;left:1966.56px;width:120px;text-align:center;">40h</span>
<span class="t k" style="top:1090.55px;font-size:19.2px;line-height:23.04px;color:#15171c;font-weight:700;letter-spacing:-0.48px;left:2093.76px;width:120px;text-align:center;">40h</span>
<span class="t k" style="top:1090.55px;font-size:19.2px;line-height:23.04px;color:#15171c;font-weight:700;letter-spacing:-0.48px;left:2220.96px;width:120px;text-align:center;">40h</span>
<span class="t k" style="top:1090.55px;font-size:19.2px;line-height:23.04px;color:#15171c;font-weight:700;letter-spacing:-0.48px;left:2348.16px;width:120px;text-align:center;">40h</span>
<span class="t k" style="top:1090.55px;font-size:19.2px;line-height:23.04px;color:#15171c;font-weight:700;letter-spacing:-0.48px;left:2475.36px;width:120px;text-align:center;">40h</span>
<div style="left:18.4px;top:1161.72px;width:537.6px;height:91.08px;background:#fff;box-shadow:inset 0 -2px 0 #efefef;"></div>
<span class="t k2" style="top:1195.64px;font-size:21.8px;line-height:26.16px;color:#1f2229;left:47.2px;">Cloud Engineer</span>
<span class="t k" style="top:1197.17px;font-size:19.2px;line-height:23.04px;color:#15171c;font-weight:700;letter-spacing:-0.48px;right:calc(100% - 403.12px);">680h</span>
<span class="t k" style="top:1197.17px;font-size:19.2px;line-height:23.04px;color:#15171c;font-weight:700;right:calc(100% - 531.6px);">$122,400.00</span>
<div style="left:564px;top:1161.72px;width:127.2px;height:91.08px;background:#ffffff;box-shadow:inset 0 -2px 0 #efefef;"></div>
<div style="left:690px;top:1161.72px;width:2.4px;height:91.08px;background:#efefef;"></div>
<div style="left:691.2px;top:1161.72px;width:1896.8px;height:91.08px;background:#a9e2fb;box-shadow:inset 0 -2px 0 rgba(255,255,255,.3);"></div>
<span class="t k" style="top:1181.63px;font-size:19.2px;line-height:23.04px;color:#15171c;font-weight:700;letter-spacing:-0.48px;left:694.56px;width:120px;text-align:center;">40h</span>
<span class="t k" style="top:1181.63px;font-size:19.2px;line-height:23.04px;color:#15171c;font-weight:700;letter-spacing:-0.48px;left:821.76px;width:120px;text-align:center;">40h</span>
<span class="t k" style="top:1181.63px;font-size:19.2px;line-height:23.04px;color:#15171c;font-weight:700;letter-spacing:-0.48px;left:948.96px;width:120px;text-align:center;">40h</span>
<span class="t k" style="top:1181.63px;font-size:19.2px;line-height:23.04px;color:#15171c;font-weight:700;letter-spacing:-0.48px;left:1076.16px;width:120px;text-align:center;">40h</span>
<span class="t k" style="top:1181.63px;font-size:19.2px;line-height:23.04px;color:#15171c;font-weight:700;letter-spacing:-0.48px;left:1203.36px;width:120px;text-align:center;">40h</span>
<span class="t k" style="top:1181.63px;font-size:19.2px;line-height:23.04px;color:#15171c;font-weight:700;letter-spacing:-0.48px;left:1330.56px;width:120px;text-align:center;">40h</span>
<span class="t k" style="top:1181.63px;font-size:19.2px;line-height:23.04px;color:#15171c;font-weight:700;letter-spacing:-0.48px;left:1457.76px;width:120px;text-align:center;">40h</span>
<span class="t k" style="top:1181.63px;font-size:19.2px;line-height:23.04px;color:#15171c;font-weight:700;letter-spacing:-0.48px;left:1584.96px;width:120px;text-align:center;">40h</span>
<span class="t k" style="top:1181.63px;font-size:19.2px;line-height:23.04px;color:#15171c;font-weight:700;letter-spacing:-0.48px;left:1712.16px;width:120px;text-align:center;">40h</span>
<span class="t k" style="top:1181.63px;font-size:19.2px;line-height:23.04px;color:#15171c;font-weight:700;letter-spacing:-0.48px;left:1839.36px;width:120px;text-align:center;">40h</span>
<span class="t k" style="top:1181.63px;font-size:19.2px;line-height:23.04px;color:#15171c;font-weight:700;letter-spacing:-0.48px;left:1966.56px;width:120px;text-align:center;">40h</span>
<span class="t k" style="top:1181.63px;font-size:19.2px;line-height:23.04px;color:#15171c;font-weight:700;letter-spacing:-0.48px;left:2093.76px;width:120px;text-align:center;">40h</span>
<span class="t k" style="top:1181.63px;font-size:19.2px;line-height:23.04px;color:#15171c;font-weight:700;letter-spacing:-0.48px;left:2220.96px;width:120px;text-align:center;">40h</span>
<span class="t k" style="top:1181.63px;font-size:19.2px;line-height:23.04px;color:#15171c;font-weight:700;letter-spacing:-0.48px;left:2348.16px;width:120px;text-align:center;">40h</span>
<span class="t k" style="top:1181.63px;font-size:19.2px;line-height:23.04px;color:#15171c;font-weight:700;letter-spacing:-0.48px;left:2475.36px;width:120px;text-align:center;">40h</span>
<div style="left:18.4px;top:1252.8px;width:537.6px;height:91.08px;background:#fff;box-shadow:inset 0 -2px 0 #efefef;"></div>
<span class="t k2" style="top:1286.72px;font-size:21.8px;line-height:26.16px;color:#1f2229;left:47.2px;">Data Engineer</span>
<span class="t k" style="top:1288.25px;font-size:19.2px;line-height:23.04px;color:#15171c;font-weight:700;letter-spacing:-0.48px;right:calc(100% - 403.12px);">160h</span>
<span class="t k" style="top:1288.25px;font-size:19.2px;line-height:23.04px;color:#15171c;font-weight:700;right:calc(100% - 531.6px);">$32,000.00</span>
<div style="left:564px;top:1252.8px;width:127.2px;height:91.08px;background:#ffffff;box-shadow:inset 0 -2px 0 #efefef;"></div>
<div style="left:690px;top:1252.8px;width:2.4px;height:91.08px;background:#efefef;"></div>
<div style="left:691.2px;top:1252.8px;width:1896.8px;height:91.08px;background:#e4f6fe;box-shadow:inset 0 -2px 0 rgba(255,255,255,.3);"></div>
<span class="t k" style="top:1272.71px;font-size:19.2px;line-height:23.04px;color:#15171c;font-weight:700;letter-spacing:-0.48px;left:694.56px;width:120px;text-align:center;">10h</span>
<span class="t k" style="top:1272.71px;font-size:19.2px;line-height:23.04px;color:#15171c;font-weight:700;letter-spacing:-0.48px;left:821.76px;width:120px;text-align:center;">10h</span>
<span class="t k" style="top:1272.71px;font-size:19.2px;line-height:23.04px;color:#15171c;font-weight:700;letter-spacing:-0.48px;left:948.96px;width:120px;text-align:center;">10h</span>
<span class="t k" style="top:1272.71px;font-size:19.2px;line-height:23.04px;color:#15171c;font-weight:700;letter-spacing:-0.48px;left:1076.16px;width:120px;text-align:center;">10h</span>
<span class="t k" style="top:1272.71px;font-size:19.2px;line-height:23.04px;color:#15171c;font-weight:700;letter-spacing:-0.48px;left:1203.36px;width:120px;text-align:center;">10h</span>
<span class="t k" style="top:1272.71px;font-size:19.2px;line-height:23.04px;color:#15171c;font-weight:700;letter-spacing:-0.48px;left:1330.56px;width:120px;text-align:center;">10h</span>
<span class="t k" style="top:1272.71px;font-size:19.2px;line-height:23.04px;color:#15171c;font-weight:700;letter-spacing:-0.48px;left:1457.76px;width:120px;text-align:center;">10h</span>
<span class="t k" style="top:1272.71px;font-size:19.2px;line-height:23.04px;color:#15171c;font-weight:700;letter-spacing:-0.48px;left:1584.96px;width:120px;text-align:center;">10h</span>
<span class="t k" style="top:1272.71px;font-size:19.2px;line-height:23.04px;color:#15171c;font-weight:700;letter-spacing:-0.48px;left:1712.16px;width:120px;text-align:center;">10h</span>
<span class="t k" style="top:1272.71px;font-size:19.2px;line-height:23.04px;color:#15171c;font-weight:700;letter-spacing:-0.48px;left:1839.36px;width:120px;text-align:center;">10h</span>
<span class="t k" style="top:1272.71px;font-size:19.2px;line-height:23.04px;color:#15171c;font-weight:700;letter-spacing:-0.48px;left:1966.56px;width:120px;text-align:center;">10h</span>
<span class="t k" style="top:1272.71px;font-size:19.2px;line-height:23.04px;color:#15171c;font-weight:700;letter-spacing:-0.48px;left:2093.76px;width:120px;text-align:center;">10h</span>
<span class="t k" style="top:1272.71px;font-size:19.2px;line-height:23.04px;color:#15171c;font-weight:700;letter-spacing:-0.48px;left:2220.96px;width:120px;text-align:center;">10h</span>
<span class="t k" style="top:1272.71px;font-size:19.2px;line-height:23.04px;color:#15171c;font-weight:700;letter-spacing:-0.48px;left:2348.16px;width:120px;text-align:center;">10h</span>
<span class="t k" style="top:1272.71px;font-size:19.2px;line-height:23.04px;color:#15171c;font-weight:700;letter-spacing:-0.48px;left:2475.36px;width:120px;text-align:center;">10h</span>
<div style="left:18.4px;top:1343.88px;width:537.6px;height:15.32px;background:#fff;box-shadow:inset 0 -2px 0 #efefef;"></div>
<div style="left:564px;top:1343.88px;width:127.2px;height:15.32px;background:#ffffff;box-shadow:inset 0 -2px 0 #efefef;"></div>
<div style="left:690px;top:1343.88px;width:2.4px;height:15.32px;background:#efefef;"></div>
<div style="left:691.2px;top:1343.88px;width:1896.8px;height:15.32px;background:#cdeefd;box-shadow:inset 0 -2px 0 rgba(255,255,255,.3);"></div></div>
<div class="win w2" style="left:1408.8px;top:196.8px;width:1317.6px;height:810.4px;border:8px solid #fff;box-shadow:0px 4px 36px rgba(0,0,0,0.5);"><span class="t" style="top:33.77px;font-size:27.6px;line-height:33.12px;color:#fff;font-weight:700;left:23.2px;">Website Design (Small)</span>
<span class="t" style="top:42.22px;font-size:18px;line-height:21.6px;color:#7d818b;left:478.8px;">Scheduled Budget: <b>$131,550.00</b></span>
<span class="t" style="top:42.22px;font-size:18px;line-height:21.6px;color:#7d818b;left:936px;">Calculated Duration: <b>8 Weeks</b></span>
<div style="left:7.6px;top:110px;width:447.2px;height:83.6px;background:#fff;"></div>
<div style="left:463.2px;top:110px;width:844.4px;height:86.8px;background:#fff;"></div>
<div style="left:7.6px;top:201.6px;width:447.2px;height:78px;background:#f4f4f4;"></div>
<div style="left:463.2px;top:196.8px;width:844.4px;height:82.8px;background:#272a33;"></div>
<span class="t" style="top:228.84px;font-size:20px;line-height:24px;color:#2b2f38;font-weight:700;left:28px;">Website Redesign (Small)</span>
<span class="t k" style="top:230.23px;font-size:17.64px;line-height:21.17px;color:#fff;left:490.8px;">8 Weeks</span>
<span class="t k" style="top:141.2px;font-size:17px;line-height:20.4px;color:#15171c;font-weight:700;letter-spacing:-0.4px;left:455.9px;width:120px;text-align:center;">Week</span>
<span class="t k" style="top:166.4px;font-size:17px;line-height:20.4px;color:#15171c;left:456.1px;width:120px;text-align:center;">1</span>
<span class="t k" style="top:141.2px;font-size:17px;line-height:20.4px;color:#15171c;font-weight:700;letter-spacing:-0.4px;left:561.7px;width:120px;text-align:center;">Week</span>
<span class="t k" style="top:166.4px;font-size:17px;line-height:20.4px;color:#15171c;left:561.9px;width:120px;text-align:center;">2</span>
<span class="t k" style="top:141.2px;font-size:17px;line-height:20.4px;color:#15171c;font-weight:700;letter-spacing:-0.4px;left:667.5px;width:120px;text-align:center;">Week</span>
<span class="t k" style="top:166.4px;font-size:17px;line-height:20.4px;color:#15171c;left:667.7px;width:120px;text-align:center;">3</span>
<span class="t k" style="top:141.2px;font-size:17px;line-height:20.4px;color:#15171c;font-weight:700;letter-spacing:-0.4px;left:773.3px;width:120px;text-align:center;">Week</span>
<span class="t k" style="top:166.4px;font-size:17px;line-height:20.4px;color:#15171c;left:773.5px;width:120px;text-align:center;">4</span>
<span class="t k" style="top:141.2px;font-size:17px;line-height:20.4px;color:#15171c;font-weight:700;letter-spacing:-0.4px;left:879.1px;width:120px;text-align:center;">Week</span>
<span class="t k" style="top:166.4px;font-size:17px;line-height:20.4px;color:#15171c;left:879.3px;width:120px;text-align:center;">5</span>
<span class="t k" style="top:141.2px;font-size:17px;line-height:20.4px;color:#15171c;font-weight:700;letter-spacing:-0.4px;left:984.9px;width:120px;text-align:center;">Week</span>
<span class="t k" style="top:166.4px;font-size:17px;line-height:20.4px;color:#15171c;left:985.1px;width:120px;text-align:center;">6</span>
<span class="t k" style="top:141.2px;font-size:17px;line-height:20.4px;color:#15171c;font-weight:700;letter-spacing:-0.4px;left:1090.7px;width:120px;text-align:center;">Week</span>
<span class="t k" style="top:166.4px;font-size:17px;line-height:20.4px;color:#15171c;left:1090.9px;width:120px;text-align:center;">7</span>
<span class="t k" style="top:141.2px;font-size:17px;line-height:20.4px;color:#15171c;font-weight:700;letter-spacing:-0.4px;left:1196.5px;width:120px;text-align:center;">Week</span>
<span class="t k" style="top:166.4px;font-size:17px;line-height:20.4px;color:#15171c;left:1196.7px;width:120px;text-align:center;">8</span>
<div style="left:7.6px;top:280.8px;width:447.2px;height:523.2px;background:#fff;"></div>
<div style="left:463.2px;top:280.8px;width:844.4px;height:523.2px;background:#fff;"></div>
<div style="left:7.6px;top:280.8px;width:447.2px;height:75.4px;background:#fff;box-shadow:inset 0 -2px 0 #efefef;"></div>
<span class="t k2" style="top:307.56px;font-size:18.6px;line-height:22.32px;color:#1f2229;left:28px;">Project Manager</span>
<span class="t k" style="top:308.5px;font-size:17px;line-height:20.4px;color:#15171c;font-weight:700;letter-spacing:-0.4px;right:calc(100% - 326px);">40h</span>
<span class="t k" style="top:308.5px;font-size:17px;line-height:20.4px;color:#15171c;font-weight:700;right:calc(100% - 434.4px);">$7,000.00</span>
<div style="left:463.2px;top:280.8px;width:844.4px;height:75.4px;background:#eef9fe;box-shadow:inset 0 -2px 0 rgba(255,255,255,.3);"></div>
<span class="t k" style="top:296px;font-size:17px;line-height:20.4px;color:#15171c;font-weight:700;letter-spacing:-0.4px;left:455.9px;width:120px;text-align:center;">5h</span>
<span class="t k" style="top:296px;font-size:17px;line-height:20.4px;color:#15171c;font-weight:700;letter-spacing:-0.4px;left:561.7px;width:120px;text-align:center;">5h</span>
<span class="t k" style="top:296px;font-size:17px;line-height:20.4px;color:#15171c;font-weight:700;letter-spacing:-0.4px;left:667.5px;width:120px;text-align:center;">5h</span>
<span class="t k" style="top:296px;font-size:17px;line-height:20.4px;color:#15171c;font-weight:700;letter-spacing:-0.4px;left:773.3px;width:120px;text-align:center;">5h</span>
<span class="t k" style="top:296px;font-size:17px;line-height:20.4px;color:#15171c;font-weight:700;letter-spacing:-0.4px;left:879.1px;width:120px;text-align:center;">5h</span>
<span class="t k" style="top:296px;font-size:17px;line-height:20.4px;color:#15171c;font-weight:700;letter-spacing:-0.4px;left:984.9px;width:120px;text-align:center;">5h</span>
<span class="t k" style="top:296px;font-size:17px;line-height:20.4px;color:#15171c;font-weight:700;letter-spacing:-0.4px;left:1090.7px;width:120px;text-align:center;">5h</span>
<span class="t k" style="top:296px;font-size:17px;line-height:20.4px;color:#15171c;font-weight:700;letter-spacing:-0.4px;left:1196.5px;width:120px;text-align:center;">5h</span>
<div style="left:7.6px;top:356.2px;width:447.2px;height:75.4px;background:#fff;box-shadow:inset 0 -2px 0 #efefef;"></div>
<span class="t k2" style="top:382.96px;font-size:18.6px;line-height:22.32px;color:#1f2229;left:28px;">Digital Strategist</span>
<span class="t k" style="top:383.9px;font-size:17px;line-height:20.4px;color:#15171c;font-weight:700;letter-spacing:-0.4px;right:calc(100% - 326px);">80h</span>
<span class="t k" style="top:383.9px;font-size:17px;line-height:20.4px;color:#15171c;font-weight:700;right:calc(100% - 434.4px);">$14,000.00</span>
<div style="left:463.2px;top:356.2px;width:844.4px;height:75.4px;background:#e4f6fe;box-shadow:inset 0 -2px 0 rgba(255,255,255,.3);"></div>
<span class="t k" style="top:371.4px;font-size:17px;line-height:20.4px;color:#15171c;font-weight:700;letter-spacing:-0.4px;left:455.9px;width:120px;text-align:center;">10h</span>
<span class="t k" style="top:371.4px;font-size:17px;line-height:20.4px;color:#15171c;font-weight:700;letter-spacing:-0.4px;left:561.7px;width:120px;text-align:center;">10h</span>
<span class="t k" style="top:371.4px;font-size:17px;line-height:20.4px;color:#15171c;font-weight:700;letter-spacing:-0.4px;left:667.5px;width:120px;text-align:center;">10h</span>
<span class="t k" style="top:371.4px;font-size:17px;line-height:20.4px;color:#15171c;font-weight:700;letter-spacing:-0.4px;left:773.3px;width:120px;text-align:center;">10h</span>
<span class="t k" style="top:371.4px;font-size:17px;line-height:20.4px;color:#15171c;font-weight:700;letter-spacing:-0.4px;left:879.1px;width:120px;text-align:center;">10h</span>
<span class="t k" style="top:371.4px;font-size:17px;line-height:20.4px;color:#15171c;font-weight:700;letter-spacing:-0.4px;left:984.9px;width:120px;text-align:center;">10h</span>
<span class="t k" style="top:371.4px;font-size:17px;line-height:20.4px;color:#15171c;font-weight:700;letter-spacing:-0.4px;left:1090.7px;width:120px;text-align:center;">10h</span>
<span class="t k" style="top:371.4px;font-size:17px;line-height:20.4px;color:#15171c;font-weight:700;letter-spacing:-0.4px;left:1196.5px;width:120px;text-align:center;">10h</span>
<div style="left:7.6px;top:431.6px;width:447.2px;height:75.4px;background:#fff;box-shadow:inset 0 -2px 0 #efefef;"></div>
<span class="t k2" style="top:458.36px;font-size:18.6px;line-height:22.32px;color:#1f2229;left:28px;">UX Designer</span>
<span class="t k" style="top:459.3px;font-size:17px;line-height:20.4px;color:#15171c;font-weight:700;letter-spacing:-0.4px;right:calc(100% - 326px);">160h</span>
<span class="t k" style="top:459.3px;font-size:17px;line-height:20.4px;color:#15171c;font-weight:700;right:calc(100% - 434.4px);">$28,800.00</span>
<div style="left:463.2px;top:431.6px;width:844.4px;height:75.4px;background:#cdeefd;box-shadow:inset 0 -2px 0 rgba(255,255,255,.3);"></div>
<span class="t k" style="top:446.8px;font-size:17px;line-height:20.4px;color:#15171c;font-weight:700;letter-spacing:-0.4px;left:455.9px;width:120px;text-align:center;">20h</span>
<span class="t k" style="top:446.8px;font-size:17px;line-height:20.4px;color:#15171c;font-weight:700;letter-spacing:-0.4px;left:561.7px;width:120px;text-align:center;">20h</span>
<span class="t k" style="top:446.8px;font-size:17px;line-height:20.4px;color:#15171c;font-weight:700;letter-spacing:-0.4px;left:667.5px;width:120px;text-align:center;">20h</span>
<span class="t k" style="top:446.8px;font-size:17px;line-height:20.4px;color:#15171c;font-weight:700;letter-spacing:-0.4px;left:773.3px;width:120px;text-align:center;">20h</span>
<span class="t k" style="top:446.8px;font-size:17px;line-height:20.4px;color:#15171c;font-weight:700;letter-spacing:-0.4px;left:879.1px;width:120px;text-align:center;">20h</span>
<span class="t k" style="top:446.8px;font-size:17px;line-height:20.4px;color:#15171c;font-weight:700;letter-spacing:-0.4px;left:984.9px;width:120px;text-align:center;">20h</span>
<span class="t k" style="top:446.8px;font-size:17px;line-height:20.4px;color:#15171c;font-weight:700;letter-spacing:-0.4px;left:1090.7px;width:120px;text-align:center;">20h</span>
<span class="t k" style="top:446.8px;font-size:17px;line-height:20.4px;color:#15171c;font-weight:700;letter-spacing:-0.4px;left:1196.5px;width:120px;text-align:center;">20h</span>
<div style="left:7.6px;top:507px;width:447.2px;height:75.4px;background:#fff;box-shadow:inset 0 -2px 0 #efefef;"></div>
<span class="t k2" style="top:533.76px;font-size:18.6px;line-height:22.32px;color:#1f2229;left:28px;">Cloud Engineer</span>
<span class="t k" style="top:534.7px;font-size:17px;line-height:20.4px;color:#15171c;font-weight:700;letter-spacing:-0.4px;right:calc(100% - 326px);">280h</span>
<span class="t k" style="top:534.7px;font-size:17px;line-height:20.4px;color:#15171c;font-weight:700;right:calc(100% - 434.4px);">$50,400.00</span>
<div style="left:463.2px;top:507px;width:105.8px;height:75.4px;background:#ffffff;box-shadow:inset 0 -2px 0 #efefef;"></div>
<div style="left:567.8px;top:507px;width:2.4px;height:75.4px;background:#efefef;"></div>
<div style="left:569px;top:507px;width:738.6px;height:75.4px;background:#a9e2fb;box-shadow:inset 0 -2px 0 rgba(255,255,255,.3);"></div>
<span class="t k" style="top:522.2px;font-size:17px;line-height:20.4px;color:#15171c;font-weight:700;letter-spacing:-0.4px;left:561.7px;width:120px;text-align:center;">40h</span>
<span class="t k" style="top:522.2px;font-size:17px;line-height:20.4px;color:#15171c;font-weight:700;letter-spacing:-0.4px;left:667.5px;width:120px;text-align:center;">40h</span>
<span class="t k" style="top:522.2px;font-size:17px;line-height:20.4px;color:#15171c;font-weight:700;letter-spacing:-0.4px;left:773.3px;width:120px;text-align:center;">40h</span>
<span class="t k" style="top:522.2px;font-size:17px;line-height:20.4px;color:#15171c;font-weight:700;letter-spacing:-0.4px;left:879.1px;width:120px;text-align:center;">40h</span>
<span class="t k" style="top:522.2px;font-size:17px;line-height:20.4px;color:#15171c;font-weight:700;letter-spacing:-0.4px;left:984.9px;width:120px;text-align:center;">40h</span>
<span class="t k" style="top:522.2px;font-size:17px;line-height:20.4px;color:#15171c;font-weight:700;letter-spacing:-0.4px;left:1090.7px;width:120px;text-align:center;">40h</span>
<span class="t k" style="top:522.2px;font-size:17px;line-height:20.4px;color:#15171c;font-weight:700;letter-spacing:-0.4px;left:1196.5px;width:120px;text-align:center;">40h</span>
<div style="left:7.6px;top:582.4px;width:447.2px;height:75.4px;background:#fff;box-shadow:inset 0 -2px 0 #efefef;"></div>
<span class="t k2" style="top:609.16px;font-size:18.6px;line-height:22.32px;color:#1f2229;left:28px;">Cloud Engineer</span>
<span class="t k" style="top:610.1px;font-size:17px;line-height:20.4px;color:#15171c;font-weight:700;letter-spacing:-0.4px;right:calc(100% - 326px);">120h</span>
<span class="t k" style="top:610.1px;font-size:17px;line-height:20.4px;color:#15171c;font-weight:700;right:calc(100% - 434.4px);">$21,600.00</span>
<div style="left:463.2px;top:582.4px;width:211.6px;height:75.4px;background:#ffffff;box-shadow:inset 0 -2px 0 #efefef;"></div>
<div style="left:567.8px;top:582.4px;width:2.4px;height:75.4px;background:#efefef;"></div>
<div style="left:673.6px;top:582.4px;width:2.4px;height:75.4px;background:#efefef;"></div>
<div style="left:674.8px;top:582.4px;width:632.8px;height:75.4px;background:#cdeefd;box-shadow:inset 0 -2px 0 rgba(255,255,255,.3);"></div>
<span class="t k" style="top:597.6px;font-size:17px;line-height:20.4px;color:#15171c;font-weight:700;letter-spacing:-0.4px;left:667.5px;width:120px;text-align:center;">20h</span>
<span class="t k" style="top:597.6px;font-size:17px;line-height:20.4px;color:#15171c;font-weight:700;letter-spacing:-0.4px;left:773.3px;width:120px;text-align:center;">20h</span>
<span class="t k" style="top:597.6px;font-size:17px;line-height:20.4px;color:#15171c;font-weight:700;letter-spacing:-0.4px;left:879.1px;width:120px;text-align:center;">20h</span>
<span class="t k" style="top:597.6px;font-size:17px;line-height:20.4px;color:#15171c;font-weight:700;letter-spacing:-0.4px;left:984.9px;width:120px;text-align:center;">20h</span>
<span class="t k" style="top:597.6px;font-size:17px;line-height:20.4px;color:#15171c;font-weight:700;letter-spacing:-0.4px;left:1090.7px;width:120px;text-align:center;">20h</span>
<span class="t k" style="top:597.6px;font-size:17px;line-height:20.4px;color:#15171c;font-weight:700;letter-spacing:-0.4px;left:1196.5px;width:120px;text-align:center;">20h</span>
<div style="left:7.6px;top:657.8px;width:447.2px;height:75.4px;background:#fff;box-shadow:inset 0 -2px 0 #efefef;"></div>
<span class="t k2" style="top:684.56px;font-size:18.6px;line-height:22.32px;color:#1f2229;left:28px;">QA Engineer</span>
<span class="t k" style="top:685.5px;font-size:17px;line-height:20.4px;color:#15171c;font-weight:700;letter-spacing:-0.4px;right:calc(100% - 326px);">50h</span>
<span class="t k" style="top:685.5px;font-size:17px;line-height:20.4px;color:#15171c;font-weight:700;right:calc(100% - 434.4px);">$7,750.00</span>
<div style="left:463.2px;top:657.8px;width:317.4px;height:75.4px;background:#ffffff;box-shadow:inset 0 -2px 0 #efefef;"></div>
<div style="left:567.8px;top:657.8px;width:2.4px;height:75.4px;background:#efefef;"></div>
<div style="left:673.6px;top:657.8px;width:2.4px;height:75.4px;background:#efefef;"></div>
<div style="left:779.4px;top:657.8px;width:2.4px;height:75.4px;background:#efefef;"></div>
<div style="left:780.6px;top:657.8px;width:527px;height:75.4px;background:#e4f6fe;box-shadow:inset 0 -2px 0 rgba(255,255,255,.3);"></div>
<span class="t k" style="top:673px;font-size:17px;line-height:20.4px;color:#15171c;font-weight:700;letter-spacing:-0.4px;left:773.3px;width:120px;text-align:center;">10h</span>
<span class="t k" style="top:673px;font-size:17px;line-height:20.4px;color:#15171c;font-weight:700;letter-spacing:-0.4px;left:879.1px;width:120px;text-align:center;">10h</span>
<span class="t k" style="top:673px;font-size:17px;line-height:20.4px;color:#15171c;font-weight:700;letter-spacing:-0.4px;left:984.9px;width:120px;text-align:center;">10h</span>
<span class="t k" style="top:673px;font-size:17px;line-height:20.4px;color:#15171c;font-weight:700;letter-spacing:-0.4px;left:1090.7px;width:120px;text-align:center;">10h</span>
<span class="t k" style="top:673px;font-size:17px;line-height:20.4px;color:#15171c;font-weight:700;letter-spacing:-0.4px;left:1196.5px;width:120px;text-align:center;">10h</span>
<div style="left:7.6px;top:733.2px;width:447.2px;height:70.8px;background:#fff;box-shadow:inset 0 -2px 0 #efefef;"></div>
<span class="t k2" style="top:759.96px;font-size:18.6px;line-height:22.32px;color:#1f2229;left:34.4px;">+</span>
<span class="t k2" style="top:760.29px;font-size:18.04px;line-height:21.65px;color:#1f2229;left:55.2px;">Add Role</span>
<div style="left:463.2px;top:733.2px;width:844.4px;height:70.8px;background:#f4f4f4;"></div>
<div style="left:567.8px;top:733.2px;width:2.4px;height:70.8px;background:#e4e4e4;"></div>
<div style="left:673.6px;top:733.2px;width:2.4px;height:70.8px;background:#e4e4e4;"></div>
<div style="left:779.4px;top:733.2px;width:2.4px;height:70.8px;background:#e4e4e4;"></div>
<div style="left:885.2px;top:733.2px;width:2.4px;height:70.8px;background:#e4e4e4;"></div>
<div style="left:991px;top:733.2px;width:2.4px;height:70.8px;background:#e4e4e4;"></div>
<div style="left:1096.8px;top:733.2px;width:2.4px;height:70.8px;background:#e4e4e4;"></div>
<div style="left:1202.6px;top:733.2px;width:2.4px;height:70.8px;background:#e4e4e4;"></div></div>
<div class="win w3" style="left:157.2px;top:1244.8px;width:2154px;height:500px;border:8px solid #fff;box-shadow:0px 8px 44px rgba(0,0,0,0.55);"><span class="t" style="top:33.37px;font-size:27.6px;line-height:33.12px;color:#fff;font-weight:700;left:21.6px;">SEO</span>
<span class="t" style="top:41.82px;font-size:18px;line-height:21.6px;color:#7d818b;left:474.8px;">Scheduled Budget: <b>$253,500.00</b></span>
<span class="t" style="top:41.82px;font-size:18px;line-height:21.6px;color:#7d818b;left:932.8px;">Calculated Duration: <b>48 Weeks</b></span>
<span class="t" style="top:41.82px;font-size:18px;line-height:21.6px;color:#7d818b;left:1386px;">Uses Primary Rate Card as Default Rate Card</span>
<div style="left:1966.8px;top:24px;width:102.8px;height:54px;background:#5e8d79;"></div>
<span class="t" style="top:43.22px;font-size:18px;line-height:21.6px;color:#34504a;font-weight:700;left:1958.2px;width:120px;text-align:center;">Save</span>
<svg style="position:absolute;left:2100px;top:39.6px" width="21.6" height="21.6" viewBox="-5 -5 10 10"><path d="M-4 -4L4 4M4 -4L-4 4" stroke="#fff" stroke-width="1.25" fill="none"/></svg>
<div style="left:5.2px;top:111.2px;width:448px;height:84.8px;background:#fff;"></div>
<div style="left:460.8px;top:111.2px;width:1693.2px;height:84.8px;background:#fff;"></div>
<div style="left:5.2px;top:203.2px;width:448px;height:76.4px;background:#f4f4f4;"></div>
<div style="left:460.8px;top:196px;width:1693.2px;height:83.6px;background:#272a33;"></div>
<span class="t" style="top:228.44px;font-size:20px;line-height:24px;color:#2b2f38;font-weight:700;left:27.6px;">SEO</span>
<span class="t k" style="top:229.83px;font-size:17.64px;line-height:21.17px;color:#fff;left:490.8px;">48 Weeks</span>
<span class="t k" style="top:140.8px;font-size:17px;line-height:20.4px;color:#15171c;font-weight:700;letter-spacing:-0.4px;left:453.8px;width:120px;text-align:center;">Week</span>
<span class="t k" style="top:164.8px;font-size:17px;line-height:20.4px;color:#15171c;left:454px;width:120px;text-align:center;">1</span>
<span class="t k" style="top:140.8px;font-size:17px;line-height:20.4px;color:#15171c;font-weight:700;letter-spacing:-0.4px;left:560.2px;width:120px;text-align:center;">Week</span>
<span class="t k" style="top:164.8px;font-size:17px;line-height:20.4px;color:#15171c;left:560.4px;width:120px;text-align:center;">2</span>
<span class="t k" style="top:140.8px;font-size:17px;line-height:20.4px;color:#15171c;font-weight:700;letter-spacing:-0.4px;left:666.6px;width:120px;text-align:center;">Week</span>
<span class="t k" style="top:164.8px;font-size:17px;line-height:20.4px;color:#15171c;left:666.8px;width:120px;text-align:center;">3</span>
<span class="t k" style="top:140.8px;font-size:17px;line-height:20.4px;color:#15171c;font-weight:700;letter-spacing:-0.4px;left:773px;width:120px;text-align:center;">Week</span>
<span class="t k" style="top:164.8px;font-size:17px;line-height:20.4px;color:#15171c;left:773.2px;width:120px;text-align:center;">4</span>
<span class="t k" style="top:140.8px;font-size:17px;line-height:20.4px;color:#15171c;font-weight:700;letter-spacing:-0.4px;left:879.4px;width:120px;text-align:center;">Week</span>
<span class="t k" style="top:164.8px;font-size:17px;line-height:20.4px;color:#15171c;left:879.6px;width:120px;text-align:center;">5</span>
<span class="t k" style="top:140.8px;font-size:17px;line-height:20.4px;color:#15171c;font-weight:700;letter-spacing:-0.4px;left:985.8px;width:120px;text-align:center;">Week</span>
<span class="t k" style="top:164.8px;font-size:17px;line-height:20.4px;color:#15171c;left:986px;width:120px;text-align:center;">6</span>
<span class="t k" style="top:140.8px;font-size:17px;line-height:20.4px;color:#15171c;font-weight:700;letter-spacing:-0.4px;left:1092.2px;width:120px;text-align:center;">Week</span>
<span class="t k" style="top:164.8px;font-size:17px;line-height:20.4px;color:#15171c;left:1092.4px;width:120px;text-align:center;">7</span>
<span class="t k" style="top:140.8px;font-size:17px;line-height:20.4px;color:#15171c;font-weight:700;letter-spacing:-0.4px;left:1198.6px;width:120px;text-align:center;">Week</span>
<span class="t k" style="top:164.8px;font-size:17px;line-height:20.4px;color:#15171c;left:1198.8px;width:120px;text-align:center;">8</span>
<span class="t k" style="top:140.8px;font-size:17px;line-height:20.4px;color:#15171c;font-weight:700;letter-spacing:-0.4px;left:1305px;width:120px;text-align:center;">Week</span>
<span class="t k" style="top:164.8px;font-size:17px;line-height:20.4px;color:#15171c;left:1305.2px;width:120px;text-align:center;">9</span>
<span class="t k" style="top:140.8px;font-size:17px;line-height:20.4px;color:#15171c;font-weight:700;letter-spacing:-0.4px;left:1411.4px;width:120px;text-align:center;">Week</span>
<span class="t k" style="top:164.8px;font-size:17px;line-height:20.4px;color:#15171c;left:1411.6px;width:120px;text-align:center;">10</span>
<span class="t k" style="top:140.8px;font-size:17px;line-height:20.4px;color:#15171c;font-weight:700;letter-spacing:-0.4px;left:1517.8px;width:120px;text-align:center;">Week</span>
<span class="t k" style="top:164.8px;font-size:17px;line-height:20.4px;color:#15171c;left:1518px;width:120px;text-align:center;">11</span>
<span class="t k" style="top:140.8px;font-size:17px;line-height:20.4px;color:#15171c;font-weight:700;letter-spacing:-0.4px;left:1624.2px;width:120px;text-align:center;">Week</span>
<span class="t k" style="top:164.8px;font-size:17px;line-height:20.4px;color:#15171c;left:1624.4px;width:120px;text-align:center;">12</span>
<span class="t k" style="top:140.8px;font-size:17px;line-height:20.4px;color:#15171c;font-weight:700;letter-spacing:-0.4px;left:1730.6px;width:120px;text-align:center;">Week</span>
<span class="t k" style="top:164.8px;font-size:17px;line-height:20.4px;color:#15171c;left:1730.8px;width:120px;text-align:center;">13</span>
<span class="t k" style="top:140.8px;font-size:17px;line-height:20.4px;color:#15171c;font-weight:700;letter-spacing:-0.4px;left:1837px;width:120px;text-align:center;">Week</span>
<span class="t k" style="top:164.8px;font-size:17px;line-height:20.4px;color:#15171c;left:1837.2px;width:120px;text-align:center;">14</span>
<span class="t k" style="top:140.8px;font-size:17px;line-height:20.4px;color:#15171c;font-weight:700;letter-spacing:-0.4px;left:1943.4px;width:120px;text-align:center;">Week</span>
<span class="t k" style="top:164.8px;font-size:17px;line-height:20.4px;color:#15171c;left:1943.6px;width:120px;text-align:center;">15</span>
<span class="t k" style="top:140.8px;font-size:17px;line-height:20.4px;color:#15171c;font-weight:700;letter-spacing:-0.4px;left:2049.8px;width:120px;text-align:center;">Week</span>
<span class="t k" style="top:164.8px;font-size:17px;line-height:20.4px;color:#15171c;left:2050px;width:120px;text-align:center;">16</span>
<div style="left:5.2px;top:279.6px;width:448px;height:220.4px;background:#fff;"></div>
<div style="left:460.8px;top:279.6px;width:1693.2px;height:220.4px;background:#fff;"></div>
<div style="left:5.2px;top:279.6px;width:448px;height:75.6px;background:#fff;box-shadow:inset 0 -2px 0 #efefef;"></div>
<span class="t k2" style="top:306.46px;font-size:18.6px;line-height:22.32px;color:#1f2229;left:27.6px;">Project Manager</span>
<span class="t k" style="top:307.4px;font-size:17px;line-height:20.4px;color:#15171c;font-weight:700;letter-spacing:-0.4px;right:calc(100% - 327.6px);">360h</span>
<span class="t k" style="top:307.4px;font-size:17px;line-height:20.4px;color:#15171c;font-weight:700;right:calc(100% - 434.8px);">$49,500.00</span>
<div style="left:460.8px;top:279.6px;width:1693.2px;height:75.6px;background:#eef9fe;box-shadow:inset 0 -2px 0 rgba(255,255,255,.3);"></div>
<span class="t k" style="top:294.8px;font-size:17px;line-height:20.4px;color:#15171c;font-weight:700;letter-spacing:-0.4px;left:453.8px;width:120px;text-align:center;">5h</span>
<span class="t k" style="top:294.8px;font-size:17px;line-height:20.4px;color:#15171c;font-weight:700;letter-spacing:-0.4px;left:560.2px;width:120px;text-align:center;">5h</span>
<span class="t k" style="top:294.8px;font-size:17px;line-height:20.4px;color:#15171c;font-weight:700;letter-spacing:-0.4px;left:666.6px;width:120px;text-align:center;">5h</span>
<span class="t k" style="top:294.8px;font-size:17px;line-height:20.4px;color:#15171c;font-weight:700;letter-spacing:-0.4px;left:773px;width:120px;text-align:center;">5h</span>
<span class="t k" style="top:294.8px;font-size:17px;line-height:20.4px;color:#15171c;font-weight:700;letter-spacing:-0.4px;left:879.4px;width:120px;text-align:center;">5h</span>
<span class="t k" style="top:294.8px;font-size:17px;line-height:20.4px;color:#15171c;font-weight:700;letter-spacing:-0.4px;left:985.8px;width:120px;text-align:center;">5h</span>
<span class="t k" style="top:294.8px;font-size:17px;line-height:20.4px;color:#15171c;font-weight:700;letter-spacing:-0.4px;left:1092.2px;width:120px;text-align:center;">5h</span>
<span class="t k" style="top:294.8px;font-size:17px;line-height:20.4px;color:#15171c;font-weight:700;letter-spacing:-0.4px;left:1198.6px;width:120px;text-align:center;">5h</span>
<span class="t k" style="top:294.8px;font-size:17px;line-height:20.4px;color:#15171c;font-weight:700;letter-spacing:-0.4px;left:1305px;width:120px;text-align:center;">5h</span>
<span class="t k" style="top:294.8px;font-size:17px;line-height:20.4px;color:#15171c;font-weight:700;letter-spacing:-0.4px;left:1411.4px;width:120px;text-align:center;">5h</span>
<span class="t k" style="top:294.8px;font-size:17px;line-height:20.4px;color:#15171c;font-weight:700;letter-spacing:-0.4px;left:1517.8px;width:120px;text-align:center;">5h</span>
<span class="t k" style="top:294.8px;font-size:17px;line-height:20.4px;color:#15171c;font-weight:700;letter-spacing:-0.4px;left:1624.2px;width:120px;text-align:center;">5h</span>
<span class="t k" style="top:294.8px;font-size:17px;line-height:20.4px;color:#15171c;font-weight:700;letter-spacing:-0.4px;left:1730.6px;width:120px;text-align:center;">5h</span>
<span class="t k" style="top:294.8px;font-size:17px;line-height:20.4px;color:#15171c;font-weight:700;letter-spacing:-0.4px;left:1837px;width:120px;text-align:center;">5h</span>
<span class="t k" style="top:294.8px;font-size:17px;line-height:20.4px;color:#15171c;font-weight:700;letter-spacing:-0.4px;left:1943.4px;width:120px;text-align:center;">5h</span>
<span class="t k" style="top:294.8px;font-size:17px;line-height:20.4px;color:#15171c;font-weight:700;letter-spacing:-0.4px;left:2049.8px;width:120px;text-align:center;">5h</span>
<div style="left:5.2px;top:355.2px;width:448px;height:75.6px;background:#fff;box-shadow:inset 0 -2px 0 #efefef;"></div>
<span class="t k2" style="top:382.06px;font-size:18.6px;line-height:22.32px;color:#1f2229;left:27.6px;">SEO Analyst</span>
<span class="t k" style="top:383px;font-size:17px;line-height:20.4px;color:#15171c;font-weight:700;letter-spacing:-0.4px;right:calc(100% - 327.6px);">520h</span>
<span class="t k" style="top:383px;font-size:17px;line-height:20.4px;color:#15171c;font-weight:700;right:calc(100% - 434.8px);">$104,000.00</span>
<div style="left:460.8px;top:355.2px;width:1693.2px;height:75.6px;background:#e4f6fe;box-shadow:inset 0 -2px 0 rgba(255,255,255,.3);"></div>
<span class="t k" style="top:370.4px;font-size:17px;line-height:20.4px;color:#15171c;font-weight:700;letter-spacing:-0.4px;left:453.8px;width:120px;text-align:center;">10h</span>
<span class="t k" style="top:370.4px;font-size:17px;line-height:20.4px;color:#15171c;font-weight:700;letter-spacing:-0.4px;left:560.2px;width:120px;text-align:center;">10h</span>
<span class="t k" style="top:370.4px;font-size:17px;line-height:20.4px;color:#15171c;font-weight:700;letter-spacing:-0.4px;left:666.6px;width:120px;text-align:center;">10h</span>
<span class="t k" style="top:370.4px;font-size:17px;line-height:20.4px;color:#15171c;font-weight:700;letter-spacing:-0.4px;left:773px;width:120px;text-align:center;">10h</span>
<span class="t k" style="top:370.4px;font-size:17px;line-height:20.4px;color:#15171c;font-weight:700;letter-spacing:-0.4px;left:879.4px;width:120px;text-align:center;">10h</span>
<span class="t k" style="top:370.4px;font-size:17px;line-height:20.4px;color:#15171c;font-weight:700;letter-spacing:-0.4px;left:985.8px;width:120px;text-align:center;">10h</span>
<span class="t k" style="top:370.4px;font-size:17px;line-height:20.4px;color:#15171c;font-weight:700;letter-spacing:-0.4px;left:1092.2px;width:120px;text-align:center;">10h</span>
<span class="t k" style="top:370.4px;font-size:17px;line-height:20.4px;color:#15171c;font-weight:700;letter-spacing:-0.4px;left:1198.6px;width:120px;text-align:center;">10h</span>
<span class="t k" style="top:370.4px;font-size:17px;line-height:20.4px;color:#15171c;font-weight:700;letter-spacing:-0.4px;left:1305px;width:120px;text-align:center;">10h</span>
<span class="t k" style="top:370.4px;font-size:17px;line-height:20.4px;color:#15171c;font-weight:700;letter-spacing:-0.4px;left:1411.4px;width:120px;text-align:center;">10h</span>
<span class="t k" style="top:370.4px;font-size:17px;line-height:20.4px;color:#15171c;font-weight:700;letter-spacing:-0.4px;left:1517.8px;width:120px;text-align:center;">10h</span>
<span class="t k" style="top:370.4px;font-size:17px;line-height:20.4px;color:#15171c;font-weight:700;letter-spacing:-0.4px;left:1624.2px;width:120px;text-align:center;">10h</span>
<span class="t k" style="top:370.4px;font-size:17px;line-height:20.4px;color:#15171c;font-weight:700;letter-spacing:-0.4px;left:1730.6px;width:120px;text-align:center;">10h</span>
<span class="t k" style="top:370.4px;font-size:17px;line-height:20.4px;color:#15171c;font-weight:700;letter-spacing:-0.4px;left:1837px;width:120px;text-align:center;">10h</span>
<span class="t k" style="top:370.4px;font-size:17px;line-height:20.4px;color:#15171c;font-weight:700;letter-spacing:-0.4px;left:1943.4px;width:120px;text-align:center;">10h</span>
<span class="t k" style="top:370.4px;font-size:17px;line-height:20.4px;color:#15171c;font-weight:700;letter-spacing:-0.4px;left:2049.8px;width:120px;text-align:center;">10h</span>
<div style="left:5.2px;top:430.8px;width:448px;height:69.2px;background:#fff;box-shadow:inset 0 -2px 0 #efefef;"></div>
<span class="t k2" style="top:457.66px;font-size:18.6px;line-height:22.32px;color:#1f2229;left:27.6px;">SEO Analyst</span>
<span class="t k" style="top:458.6px;font-size:17px;line-height:20.4px;color:#15171c;font-weight:700;letter-spacing:-0.4px;right:calc(100% - 327.6px);">520h</span>
<span class="t k" style="top:458.6px;font-size:17px;line-height:20.4px;color:#15171c;font-weight:700;right:calc(100% - 434.8px);">$104,000.00</span>
<div style="left:460.8px;top:430.8px;width:1693.2px;height:69.2px;background:#e4f6fe;box-shadow:inset 0 -2px 0 rgba(255,255,255,.3);"></div>
<span class="t k" style="top:446px;font-size:17px;line-height:20.4px;color:#15171c;font-weight:700;letter-spacing:-0.4px;left:453.8px;width:120px;text-align:center;">10h</span>
<span class="t k" style="top:446px;font-size:17px;line-height:20.4px;color:#15171c;font-weight:700;letter-spacing:-0.4px;left:560.2px;width:120px;text-align:center;">10h</span>
<span class="t k" style="top:446px;font-size:17px;line-height:20.4px;color:#15171c;font-weight:700;letter-spacing:-0.4px;left:666.6px;width:120px;text-align:center;">10h</span>
<span class="t k" style="top:446px;font-size:17px;line-height:20.4px;color:#15171c;font-weight:700;letter-spacing:-0.4px;left:773px;width:120px;text-align:center;">10h</span>
<span class="t k" style="top:446px;font-size:17px;line-height:20.4px;color:#15171c;font-weight:700;letter-spacing:-0.4px;left:879.4px;width:120px;text-align:center;">10h</span>
<span class="t k" style="top:446px;font-size:17px;line-height:20.4px;color:#15171c;font-weight:700;letter-spacing:-0.4px;left:985.8px;width:120px;text-align:center;">10h</span>
<span class="t k" style="top:446px;font-size:17px;line-height:20.4px;color:#15171c;font-weight:700;letter-spacing:-0.4px;left:1092.2px;width:120px;text-align:center;">10h</span>
<span class="t k" style="top:446px;font-size:17px;line-height:20.4px;color:#15171c;font-weight:700;letter-spacing:-0.4px;left:1198.6px;width:120px;text-align:center;">10h</span>
<span class="t k" style="top:446px;font-size:17px;line-height:20.4px;color:#15171c;font-weight:700;letter-spacing:-0.4px;left:1305px;width:120px;text-align:center;">10h</span>
<span class="t k" style="top:446px;font-size:17px;line-height:20.4px;color:#15171c;font-weight:700;letter-spacing:-0.4px;left:1411.4px;width:120px;text-align:center;">10h</span>
<span class="t k" style="top:446px;font-size:17px;line-height:20.4px;color:#15171c;font-weight:700;letter-spacing:-0.4px;left:1517.8px;width:120px;text-align:center;">10h</span>
<span class="t k" style="top:446px;font-size:17px;line-height:20.4px;color:#15171c;font-weight:700;letter-spacing:-0.4px;left:1624.2px;width:120px;text-align:center;">10h</span>
<span class="t k" style="top:446px;font-size:17px;line-height:20.4px;color:#15171c;font-weight:700;letter-spacing:-0.4px;left:1730.6px;width:120px;text-align:center;">10h</span>
<span class="t k" style="top:446px;font-size:17px;line-height:20.4px;color:#15171c;font-weight:700;letter-spacing:-0.4px;left:1837px;width:120px;text-align:center;">10h</span>
<span class="t k" style="top:446px;font-size:17px;line-height:20.4px;color:#15171c;font-weight:700;letter-spacing:-0.4px;left:1943.4px;width:120px;text-align:center;">10h</span>
<span class="t k" style="top:446px;font-size:17px;line-height:20.4px;color:#15171c;font-weight:700;letter-spacing:-0.4px;left:2049.8px;width:120px;text-align:center;">10h</span></div>
</div>
</body></html>
